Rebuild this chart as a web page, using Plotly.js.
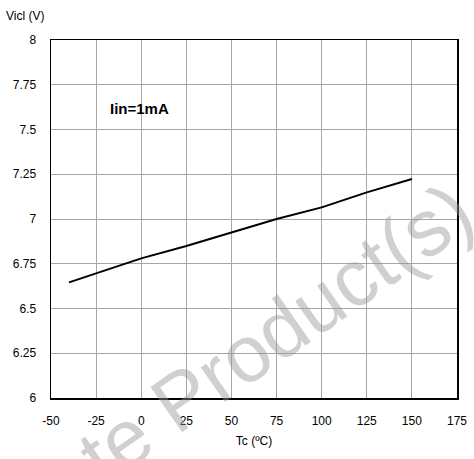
<!DOCTYPE html>
<html>
<head>
<meta charset="utf-8">
<script src="https://cdn.plot.ly/plotly-3.0.1.min.js"></script>
<style>html,body{margin:0;padding:0;background:#fff;}#chart{width:474px;height:459px;}</style>
</head>
<body>
<div id="chart"></div>
<script>
var tempC = [-40, -25, 0, 25, 50, 75, 100, 125, 150];
var viclV = [6.646, 6.695, 6.78, 6.849, 6.924, 7.0, 7.065, 7.149, 7.223];
var xTickVals = [-50, -25, 0, 25, 50, 75, 100, 125, 150, 175];
var xTickText = ["-50", "-25", "0", "25", "50", "75", "100", "125", "150", "175"];
var yTickVals = [6, 6.25, 6.5, 6.75, 7, 7.25, 7.5, 7.75, 8];
var yTickText = ["6", "6.25", "6.5", "6.75", "7", "7.25", "7.5", "7.75", "8"];

var font = "Arial, 'Liberation Sans', sans-serif";

var trace = {
  x: tempC, y: viclV, type: 'scatter', mode: 'lines',
  line: {color: '#000', width: 2}, hoverinfo: 'skip'
};

var layout = {
  width: 474, height: 459,
  margin: {l: 51, r: 17, t: 40, b: 61},
  paper_bgcolor: '#fff', plot_bgcolor: '#fff',
  showlegend: false,
  font: {family: font, size: 12, color: '#000'},
  xaxis: {
    range: [-50, 175], tickvals: xTickVals, ticktext: xTickText,
    showgrid: true, gridcolor: '#a6a6a6', gridwidth: 1,
    zeroline: false, showline: true, linecolor: '#000', linewidth: 1.5, mirror: true,
    ticks: 'outside', ticklen: 11, tickcolor: 'rgba(0,0,0,0)',
    tickfont: {family: font, size: 12, color: '#000'},
    title: {text: 'Tc (ºC)', font: {family: font, size: 12, color: '#000'}, standoff: 9},
    fixedrange: true
  },
  yaxis: {
    range: [6, 8], tickvals: yTickVals, ticktext: yTickText,
    showgrid: true, gridcolor: '#a6a6a6', gridwidth: 1,
    zeroline: false, showline: true, linecolor: '#000', linewidth: 1.5, mirror: true,
    ticks: 'outside', ticklen: 11, tickcolor: 'rgba(0,0,0,0)',
    tickfont: {family: font, size: 12, color: '#000'},
    fixedrange: true
  },
  annotations: [
    {text: 'Vicl (V)', xref: 'paper', yref: 'paper', x: -0.115, y: 1.042,
     xanchor: 'left', yanchor: 'bottom', showarrow: false,
     font: {family: font, size: 12, color: '#000'}},
    {text: '<b>Iin=1mA</b>', xref: 'x', yref: 'y', x: -18.5, y: 7.62,
     xanchor: 'left', yanchor: 'middle', showarrow: false,
     font: {family: font, size: 15, color: '#000'}},
    {text: 'Obsolete Product(s)', xref: 'paper', yref: 'paper', x: 0.298, y: -0.02,
     xanchor: 'center', yanchor: 'middle', showarrow: false, textangle: -35,
     font: {family: font, size: 80, color: 'rgba(150,150,150,0.45)'}}
  ]
};

Plotly.newPlot('chart', [trace], layout, {displayModeBar: false, staticPlot: true});
</script>
</body>
</html>
